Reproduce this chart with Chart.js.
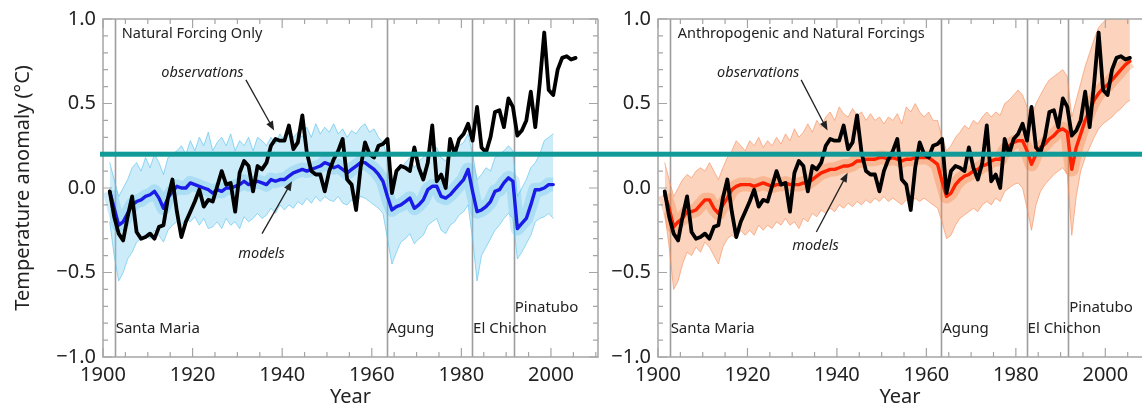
<!DOCTYPE html>
<html>
<head>
<meta charset="utf-8">
<script src="https://cdn.jsdelivr.net/npm/chart.js@4.4.1/dist/chart.umd.min.js"></script>
<style>
html, body { margin: 0; padding: 0; background: #fff; overflow: hidden; }
#wrap { position: relative; width: 1142px; height: 409px; }
canvas { position: absolute; top: 0; }
#natural { left: 0; }
#anthro { left: 600px; }
</style>
</head>
<body>
<div id="wrap">
  <canvas id="natural" width="600" height="409"></canvas>
  <canvas id="anthro" width="542" height="409"></canvas>
</div>
<script>
// observed global temperature anomaly, 1901-2005 (deg C)
var obsStart = 1901;
var obsValues = [
  -0.02, -0.17, -0.27, -0.31, -0.17, -0.05, -0.26, -0.30, -0.29, -0.27,
  -0.30, -0.23, -0.22, -0.06, 0.05, -0.14, -0.29, -0.20, -0.14, -0.08,
  -0.01, -0.11, -0.07, -0.08, 0.01, 0.10, 0.02, 0.03, -0.14, 0.09,
  0.16, 0.13, -0.02, 0.13, 0.11, 0.15, 0.25, 0.29, 0.28, 0.28,
  0.37, 0.23, 0.27, 0.43, 0.21, 0.10, 0.08, 0.08, -0.02, 0.10,
  0.17, 0.22, 0.29, 0.05, 0.02, -0.13, 0.12, 0.27, 0.20, 0.18,
  0.25, 0.26, 0.29, -0.03, 0.10, 0.13, 0.12, 0.10, 0.24, 0.12,
  0.05, 0.15, 0.37, 0.04, 0.08, 0.00, 0.29, 0.20, 0.29, 0.32,
  0.38, 0.28, 0.48, 0.24, 0.21, 0.30, 0.45, 0.46, 0.36, 0.53,
  0.48, 0.31, 0.34, 0.40, 0.57, 0.36, 0.62, 0.92, 0.58, 0.55,
  0.70, 0.77, 0.78, 0.76, 0.77
];

// natural forcing only: ensemble mean and spread, 1901-2000
var naturalStart = 1901;
var naturalMean = [
  -0.02, -0.12, -0.22, -0.20, -0.15, -0.10, -0.08, -0.07, -0.05, -0.04,
  -0.02, -0.06, -0.12, -0.06, -0.02, 0.01, 0.00, 0.00, 0.03, 0.02,
  0.01, 0.00, -0.01, -0.03, -0.01, -0.02, 0.00, 0.00, 0.01, 0.02,
  0.04, 0.02, 0.03, 0.04, 0.03, 0.02, 0.05, 0.04, 0.05, 0.05,
  0.07, 0.09, 0.10, 0.11, 0.10, 0.11, 0.12, 0.13, 0.15, 0.14,
  0.12, 0.13, 0.11, 0.09, 0.11, 0.13, 0.15, 0.15, 0.13, 0.11,
  0.08, 0.04, -0.05, -0.13, -0.11, -0.10, -0.08, -0.06, -0.12, -0.10,
  -0.07, -0.01, 0.01, 0.01, -0.05, -0.06, -0.04, -0.01, 0.02, 0.05,
  0.11, -0.02, -0.14, -0.13, -0.11, -0.08, -0.02, -0.01, 0.03, 0.06,
  0.04, -0.24, -0.21, -0.18, -0.10, -0.01, -0.01, 0.00, 0.02, 0.02
];
var naturalUpper = [
  0.15, 0.05, -0.05, 0.00, 0.05, 0.12, 0.15, 0.10, 0.18, 0.12,
  0.20, 0.15, 0.08, 0.18, 0.20, 0.22, 0.25, 0.20, 0.28, 0.22,
  0.30, 0.25, 0.33, 0.22, 0.27, 0.30, 0.25, 0.32, 0.22, 0.28,
  0.25, 0.30, 0.22, 0.30, 0.28, 0.25, 0.30, 0.26, 0.32, 0.28,
  0.35, 0.30, 0.33, 0.30, 0.36, 0.30, 0.38, 0.32, 0.36, 0.33,
  0.38, 0.32, 0.35, 0.30, 0.34, 0.32, 0.36, 0.38, 0.33, 0.35,
  0.30, 0.27, 0.18, 0.05, 0.10, 0.12, 0.15, 0.18, 0.12, 0.16,
  0.18, 0.22, 0.20, 0.24, 0.18, 0.16, 0.20, 0.22, 0.25, 0.27,
  0.32, 0.20, 0.05, 0.08, 0.12, 0.10, 0.18, 0.20, 0.22, 0.25,
  0.22, -0.05, 0.00, 0.05, 0.12, 0.15, 0.20, 0.28, 0.30, 0.32
];
var naturalLower = [
  -0.20, -0.40, -0.55, -0.50, -0.42, -0.38, -0.32, -0.30, -0.28, -0.30,
  -0.25, -0.28, -0.32, -0.25, -0.22, -0.20, -0.22, -0.18, -0.20, -0.17,
  -0.22, -0.18, -0.24, -0.23, -0.20, -0.24, -0.18, -0.22, -0.20, -0.24,
  -0.17, -0.20, -0.18, -0.15, -0.18, -0.16, -0.12, -0.15, -0.10, -0.13,
  -0.10, -0.12, -0.08, -0.10, -0.06, -0.09, -0.05, -0.08, -0.05, -0.07,
  -0.08, -0.05, -0.09, -0.10, -0.07, -0.09, -0.05, -0.06, -0.08, -0.10,
  -0.12, -0.15, -0.30, -0.45, -0.38, -0.32, -0.30, -0.27, -0.33, -0.30,
  -0.28, -0.22, -0.20, -0.18, -0.25, -0.27, -0.22, -0.20, -0.16, -0.14,
  -0.10, -0.30, -0.55, -0.40, -0.35, -0.30, -0.25, -0.22, -0.18, -0.15,
  -0.18, -0.42, -0.38, -0.33, -0.28, -0.20, -0.18, -0.17, -0.15, -0.18
];

// anthropogenic + natural forcings: ensemble mean and spread, 1901-2005
var allStart = 1901;
var allMean = [
  -0.04, -0.12, -0.23, -0.20, -0.18, -0.14, -0.14, -0.13, -0.10, -0.07,
  -0.07, -0.12, -0.15, -0.10, -0.06, -0.01, 0.01, 0.02, 0.02, 0.02,
  0.01, 0.02, 0.03, 0.02, 0.01, 0.02, 0.02, 0.03, 0.02, 0.02,
  0.02, 0.03, 0.03, 0.05, 0.07, 0.09, 0.10, 0.11, 0.11, 0.12,
  0.13, 0.13, 0.14, 0.16, 0.16, 0.17, 0.17, 0.17, 0.18, 0.18,
  0.17, 0.18, 0.17, 0.16, 0.17, 0.17, 0.18, 0.18, 0.18, 0.18,
  0.16, 0.14, 0.04, -0.05, -0.03, 0.02, 0.05, 0.07, 0.08, 0.10,
  0.11, 0.13, 0.14, 0.16, 0.17, 0.17, 0.22, 0.25, 0.27, 0.28,
  0.28, 0.22, 0.14, 0.20, 0.24, 0.26, 0.29, 0.31, 0.34, 0.35,
  0.33, 0.11, 0.24, 0.32, 0.40, 0.46, 0.52, 0.56, 0.59, 0.61,
  0.64, 0.67, 0.70, 0.73, 0.75
];
var allUpper = [
  0.15, 0.05, -0.05, 0.00, 0.05, 0.08, 0.06, 0.10, 0.12, 0.10,
  0.15, 0.10, 0.05, 0.12, 0.18, 0.22, 0.28, 0.25, 0.22, 0.28,
  0.25, 0.30, 0.24, 0.28, 0.25, 0.30, 0.26, 0.32, 0.28, 0.35,
  0.30, 0.33, 0.38, 0.33, 0.40, 0.36, 0.42, 0.45, 0.40, 0.48,
  0.44, 0.42, 0.47, 0.43, 0.45, 0.40, 0.44, 0.40, 0.42, 0.38,
  0.42, 0.40, 0.44, 0.38, 0.48, 0.45, 0.50, 0.45, 0.42, 0.45,
  0.40, 0.40, 0.30, 0.22, 0.25, 0.30, 0.33, 0.37, 0.35, 0.40,
  0.38, 0.42, 0.45, 0.42, 0.45, 0.43, 0.50, 0.52, 0.55, 0.58,
  0.55, 0.48, 0.42, 0.50, 0.55, 0.60, 0.64, 0.66, 0.68, 0.70,
  0.66, 0.42, 0.52, 0.62, 0.72, 0.80, 0.88, 0.95, 0.98, 1.00,
  1.02, 1.05, 1.05, 1.05, 1.02
];
var allLower = [
  -0.15, -0.35, -0.60, -0.55, -0.45, -0.38, -0.40, -0.35, -0.38, -0.32,
  -0.35, -0.40, -0.45, -0.35, -0.30, -0.28, -0.30, -0.25, -0.28, -0.25,
  -0.28, -0.22, -0.25, -0.22, -0.24, -0.20, -0.22, -0.18, -0.22, -0.20,
  -0.24, -0.18, -0.20, -0.15, -0.17, -0.13, -0.15, -0.12, -0.14, -0.10,
  -0.12, -0.09, -0.11, -0.08, -0.10, -0.07, -0.09, -0.06, -0.08, -0.05,
  -0.08, -0.06, -0.08, -0.10, -0.07, -0.09, -0.06, -0.08, -0.06, -0.08,
  -0.10, -0.12, -0.20, -0.30, -0.28, -0.22, -0.18, -0.16, -0.14, -0.12,
  -0.14, -0.10, -0.08, -0.10, -0.06, -0.08, -0.02, 0.00, 0.02, 0.03,
  0.00, -0.12, -0.25, -0.10, -0.02, 0.02, 0.05, 0.08, 0.10, 0.12,
  0.08, -0.28, -0.05, 0.10, 0.18, 0.24, 0.30, 0.35, 0.38, 0.40,
  0.42, 0.45, 0.47, 0.50, 0.52
];

// volcanic eruptions
var volcanoNames = ['Santa Maria', 'Agung', 'El Chichon', 'Pinatubo'];
var volcanoYears = [1902.6, 1963.3, 1982.4, 1991.7];
var volcanoLabelY = [-0.83, -0.83, -0.83, -0.71];

var yTicks = [-1.0, -0.5, 0.0, 0.5, 1.0];
var xTickStep = 20;
var refLevel = 0.2;

var FONT = '"Noto Sans", "Open Sans", sans-serif';

function toPoints(start, values) {
  // annual values plotted at mid-year
  return values.map(function (v, i) { return { x: start + i + 0.5, y: v }; });
}

function fmtY(v) {
  var s = Math.abs(v).toFixed(1);
  return v < -1e-9 ? '\u2212' + s : s;
}

var panelDecor = {
  id: 'panelDecor',
  beforeDatasetsDraw: function (chart, args, o) {
    var ctx = chart.ctx, a = chart.chartArea, xs = chart.scales.x;
    ctx.save();
    ctx.strokeStyle = '#9d9d9d';
    ctx.lineWidth = 1.6;
    volcanoYears.forEach(function (v) {
      var px = Math.round(xs.getPixelForValue(v)) + 0.5;
      ctx.beginPath(); ctx.moveTo(px, a.top); ctx.lineTo(px, a.bottom); ctx.stroke();
    });
    ctx.restore();
  },
  afterDatasetsDraw: function (chart, args, o) {
    var ctx = chart.ctx, a = chart.chartArea, xs = chart.scales.x, ys = chart.scales.y;
    function X(v) { return xs.getPixelForValue(v); }
    function Y(v) { return ys.getPixelForValue(v); }
    ctx.save();
    // frame with inward ticks
    ctx.strokeStyle = '#a5a5a5';
    ctx.lineWidth = 1.5;
    ctx.beginPath();
    ctx.moveTo(a.right, a.top); ctx.lineTo(a.left, a.top); ctx.lineTo(a.left, a.bottom); ctx.lineTo(a.right, a.bottom);
    if (o.rightFrame) ctx.lineTo(a.right, a.top);
    ctx.stroke();
    ctx.lineWidth = 1.2;
    ctx.beginPath();
    for (var yr = 1900; yr <= xs.max; yr += 5) {
      var px = X(yr), len = yr % 20 === 0 ? 9 : 5;
      ctx.moveTo(px, a.bottom); ctx.lineTo(px, a.bottom - len);
      ctx.moveTo(px, a.top); ctx.lineTo(px, a.top + len);
    }
    for (var k = -10; k <= 10; k++) {
      var py = Y(k / 10), ln = k % 5 === 0 ? 9 : 5;
      ctx.moveTo(a.left, py); ctx.lineTo(a.left + ln, py);
      if (o.rightFrame) { ctx.moveTo(a.right, py); ctx.lineTo(a.right - ln, py); }
    }
    ctx.stroke();

    // volcano names
    ctx.fillStyle = '#222';
    ctx.font = '15px ' + FONT;
    ctx.textAlign = 'left';
    ctx.textBaseline = 'middle';
    volcanoNames.forEach(function (n, i) {
      ctx.fillText(n, X(volcanoYears[i]) + 1, Y(volcanoLabelY[i]));
    });

    // panel title
    ctx.font = '14.5px ' + FONT;
    ctx.fillText(o.title, X(o.titleAt[0]), Y(o.titleAt[1]));

    // annotations with arrows
    ctx.font = 'italic 14.5px ' + FONT;
    ctx.textAlign = 'center';
    ctx.fillText('observations', X(o.obsText[0]), Y(o.obsText[1]));
    ctx.fillText('models', X(o.modText[0]), Y(o.modText[1]));
    [o.obsArrow, o.modArrow].forEach(function (ar) {
      var x0 = X(ar[0]), y0 = Y(ar[1]), x1 = X(ar[2]), y1 = Y(ar[3]);
      var ang = Math.atan2(y1 - y0, x1 - x0);
      ctx.strokeStyle = '#222';
      ctx.lineWidth = 1.3;
      ctx.beginPath(); ctx.moveTo(x0, y0);
      ctx.lineTo(x1 - 6 * Math.cos(ang), y1 - 6 * Math.sin(ang)); ctx.stroke();
      ctx.beginPath();
      ctx.moveTo(x1, y1);
      ctx.lineTo(x1 - 10 * Math.cos(ang - 0.38), y1 - 10 * Math.sin(ang - 0.38));
      ctx.lineTo(x1 - 10 * Math.cos(ang + 0.38), y1 - 10 * Math.sin(ang + 0.38));
      ctx.closePath();
      ctx.fillStyle = '#222';
      ctx.fill();
    });
    ctx.restore();
  },
  afterDraw: function (chart, args, o) {
    var ctx = chart.ctx, a = chart.chartArea, ys = chart.scales.y;
    var py = ys.getPixelForValue(refLevel);
    ctx.save();
    ctx.fillStyle = '#129a98';
    var x0 = o.rightFrame ? a.left - 3 : 0;
    ctx.fillRect(x0, py - 2.5, chart.width - x0, 5);
    ctx.restore();
  }
};

function makePanel(id, cfg) {
  var tickFont = { family: FONT, size: 20 };
  return new Chart(document.getElementById(id), {
    type: 'line',
    data: {
      datasets: [
        { data: toPoints(obsStart, obsValues), borderColor: '#000', borderWidth: 3.8, order: 0 },
        { data: toPoints(cfg.start, cfg.mean), borderColor: cfg.meanColor, borderWidth: 3.4, order: 1 },
        { data: toPoints(cfg.start, cfg.lower), borderColor: cfg.edgeColor, borderWidth: 0.8, fill: false, order: 4 },
        { data: toPoints(cfg.start, cfg.upper), borderColor: cfg.edgeColor, borderWidth: 0.8,
          backgroundColor: cfg.bandColor, fill: '-1', order: 3 },
        // denser core of the ensemble around its mean
        { data: toPoints(cfg.start, cfg.mean), borderColor: cfg.coreColor, borderWidth: 14,
          borderCapStyle: 'butt', order: 2 }
      ]
    },
    options: {
      responsive: false,
      animation: false,
      events: [],
      parsing: false,
      elements: {
        point: { radius: 0 },
        line: { tension: 0, borderJoinStyle: 'round', borderCapStyle: 'round' }
      },
      layout: { padding: { top: 16, right: cfg.padRight, left: 0, bottom: 0 } },
      plugins: {
        legend: { display: false },
        tooltip: { enabled: false },
        panelDecor: cfg.decor
      },
      scales: {
        x: {
          type: 'linear', min: 1900, max: cfg.xMax,
          grid: { display: false, drawTicks: false },
          border: { display: false },
          ticks: {
            stepSize: xTickStep, includeBounds: false, autoSkip: false, maxRotation: 0,
            font: tickFont, color: '#222', padding: 6,
            callback: function (v) { return String(v); }
          },
          title: { display: true, text: 'Year', font: { family: FONT, size: 20 }, color: '#222', padding: { top: 0, bottom: 0 } },
          afterFit: function (s) { s.height = 52; }
        },
        y: {
          type: 'linear', min: -1, max: 1,
          grid: { display: false, drawTicks: false },
          border: { display: false },
          afterBuildTicks: function (s) { s.ticks = yTicks.map(function (v) { return { value: v }; }); },
          ticks: {
            font: tickFont, color: '#222', padding: 7,
            callback: function (v) { return fmtY(v); }
          },
          title: { display: cfg.yTitle, text: 'Temperature anomaly (\u00B0C)', font: { family: FONT, size: 20 }, color: '#222', padding: { top: 11, bottom: 0 } },
          afterFit: function (s) { s.width = cfg.yWidth; }
        }
      }
    },
    plugins: [panelDecor]
  });
}

makePanel('natural', {
  start: naturalStart, mean: naturalMean, upper: naturalUpper, lower: naturalLower,
  meanColor: '#1b1be8', edgeColor: 'rgba(80,190,235,0.75)', bandColor: 'rgba(120,205,240,0.38)',
  coreColor: 'rgba(70,180,230,0.25)',
  xMax: 2010.5, padRight: 2, yWidth: 103, yTitle: true,
  decor: {
    rightFrame: true, title: 'Natural Forcing Only', titleAt: [1904.2, 0.91],
    obsText: [1922.2, 0.68], modText: [1935.4, -0.39],
    obsArrow: [1931.9, 0.64, 1938.2, 0.34], modArrow: [1935.5, -0.27, 1942.2, 0.04]
  }
});

makePanel('anthro', {
  start: allStart, mean: allMean, upper: allUpper, lower: allLower,
  meanColor: '#ff2200', edgeColor: 'rgba(245,140,90,0.75)', bandColor: 'rgba(247,140,80,0.38)',
  coreColor: 'rgba(240,110,40,0.28)',
  xMax: 2008.2, padRight: 0, yWidth: 58, yTitle: false,
  decor: {
    rightFrame: false, title: 'Anthropogenic and Natural Forcings', titleAt: [1904.4, 0.91],
    obsText: [1922.4, 0.68], modText: [1935.2, -0.34],
    obsArrow: [1932.0, 0.64, 1937.9, 0.34], modArrow: [1935.4, -0.26, 1942.4, 0.09]
  }
});
</script>
</body>
</html>
